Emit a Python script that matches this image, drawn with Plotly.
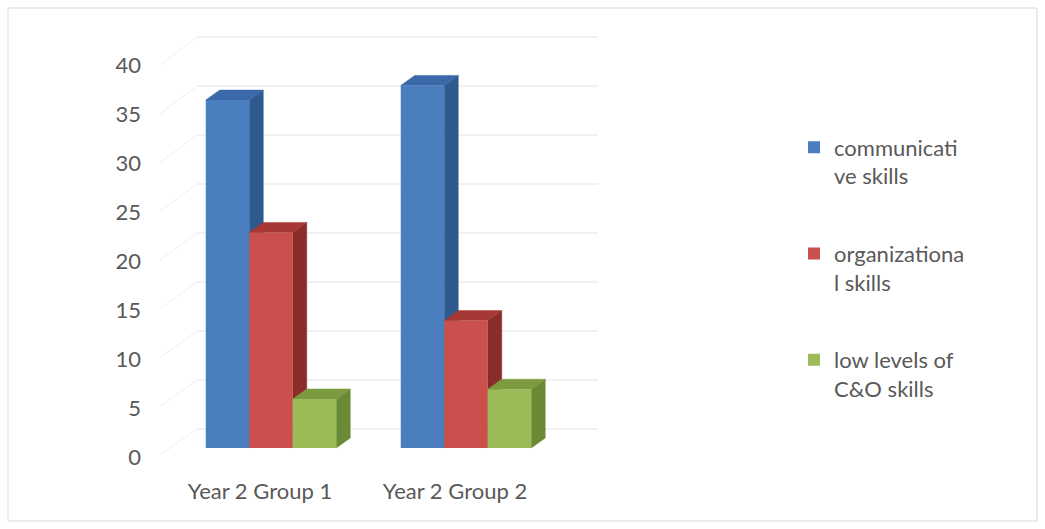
import plotly.graph_objects as go

# ---- data -------------------------------------------------------------
categories = ["Year 2 Group 1", "Year 2 Group 2"]
series_names = ["communicati<br>ve skills", "organizationa<br>l skills", "low levels of<br>C&O skills"]
communicative = [35.5, 37]
organizational = [22, 13]
low_levels = [5, 6]
y_ticks = [0, 5, 10, 15, 20, 25, 30, 35, 40]

# ---- styling / geometry ----------------------------------------------
W, H = 1045, 529
ML, MB = 150, 60
PLOT_H = H - MB
PX_PER_CAT = 195.0          # pixels between category centres
PX_PER_UNIT = 9.8           # pixels per value unit
X0_PX = 271.0               # pixel of first category centre
BASE_PX = 448.0             # pixel of value 0 on the bar front plane
LABEL_BASE_PX = 457.5       # pixel of the "0" tick label
LABEL_PX_PER_UNIT = 9.8

front = ["#4a7ebf", "#c9504c", "#9bbb59"]
side = ["#2e5a8e", "#8a2c2a", "#6b8a35"]
top = ["#3b68a8", "#a63835", "#7c9b3f"]
text_color = "#595959"
font_family = "Lato, Carlito, Calibri, sans-serif"
FONT_SIZE = 22


def px_to_x(px):
    return (px - X0_PX) / PX_PER_CAT


def px_to_y(py):
    return (BASE_PX - py) / PX_PER_UNIT


x_range = [px_to_x(ML), px_to_x(W)]
y_range = [px_to_y(PLOT_H), px_to_y(0)]

bar_w = 43.5 / PX_PER_CAT
depth_dx = 14 / PX_PER_CAT
depth_dy = 10 / PX_PER_UNIT
back_shift = 19 / PX_PER_UNIT      # back wall sits this far above the bar plane

fig = go.Figure()

# back-wall gridlines and side-wall diagonals
wall_left, wall_right = px_to_x(197), px_to_x(598)
for v in y_ticks:
    fig.add_trace(go.Scatter(
        x=[wall_left, wall_right], y=[v + back_shift] * 2, mode="lines",
        line=dict(color="#e4e4e4", width=1), hoverinfo="skip", showlegend=False))
    fig.add_trace(go.Scatter(
        x=[px_to_x(160), wall_left],
        y=[px_to_y(455 - 9.75 * v), v + back_shift],
        mode="lines", line=dict(color="#f0f0f0", width=1),
        hoverinfo="skip", showlegend=False))

# depth faces (side and top) of every column
all_series = [communicative, organizational, low_levels]
for s, values in enumerate(all_series):
    for c, v in enumerate(values):
        xl = c + (s - 1.5) * bar_w
        xr = xl + bar_w
        fig.add_trace(go.Scatter(
            x=[xr, xr, xr + depth_dx, xr + depth_dx, xr],
            y=[0, v, v + depth_dy, depth_dy, 0],
            fill="toself", fillcolor=side[s], mode="lines",
            line=dict(color=side[s], width=0.5),
            hoverinfo="skip", showlegend=False))
        fig.add_trace(go.Scatter(
            x=[xl, xr, xr + depth_dx, xl + depth_dx, xl],
            y=[v, v, v + depth_dy, v + depth_dy, v],
            fill="toself", fillcolor=top[s], mode="lines",
            line=dict(color=top[s], width=0.5),
            hoverinfo="skip", showlegend=False))

# front faces of the columns
for s, values in enumerate(all_series):
    fig.add_trace(go.Bar(
        x=[0, 1], y=values, width=bar_w, offset=(s - 1.5) * bar_w,
        marker=dict(color=front[s], line=dict(width=0)),
        name=series_names[s], legendgroup=f"g{s}",
        xaxis="x", yaxis="y2"))

fig.update_layout(
    width=W, height=H,
    margin=dict(l=ML, r=0, t=0, b=MB),
    paper_bgcolor="white", plot_bgcolor="white",
    font=dict(family=font_family, size=FONT_SIZE, color=text_color),
    xaxis=dict(range=x_range, tickvals=[0, 1], ticktext=categories,
               showgrid=False, zeroline=False, showline=False, ticks="",
               ticklabelshift=-11, ticklabelstandoff=7, fixedrange=True),
    yaxis=dict(range=y_range, showgrid=False, zeroline=False, showline=False,
               showticklabels=False, ticks=""),
    yaxis2=dict(range=y_range, overlaying="y", showgrid=False, zeroline=False,
                showline=False, showticklabels=False, ticks=""),
    yaxis3=dict(range=[(LABEL_BASE_PX - PLOT_H) / LABEL_PX_PER_UNIT,
                       LABEL_BASE_PX / LABEL_PX_PER_UNIT],
                overlaying="y", side="left", tickvals=y_ticks, showgrid=False,
                zeroline=False, showline=False, ticks="", ticklabelstandoff=8),
    legend=dict(x=(794 - ML) / (W - ML), xanchor="left",
                y=1 - 268 / PLOT_H, yanchor="middle",
                tracegroupgap=46, valign="top",
                font=dict(family=font_family, size=FONT_SIZE, color=text_color)),
    barmode="overlay",
    showlegend=True,
)

# invisible trace so the label axis is drawn
fig.add_trace(go.Scatter(x=[None], y=[None], yaxis="y3", showlegend=False, hoverinfo="skip"))

# outer chart border
fig.add_shape(type="rect", xref="paper", yref="paper",
              x0=(8 - ML) / (W - ML), x1=(1037 - ML) / (W - ML),
              y0=(PLOT_H - 521) / PLOT_H, y1=(PLOT_H - 8) / PLOT_H,
              line=dict(color="#d9d9d9", width=1), layer="below")

fig.write_html("out.html")
